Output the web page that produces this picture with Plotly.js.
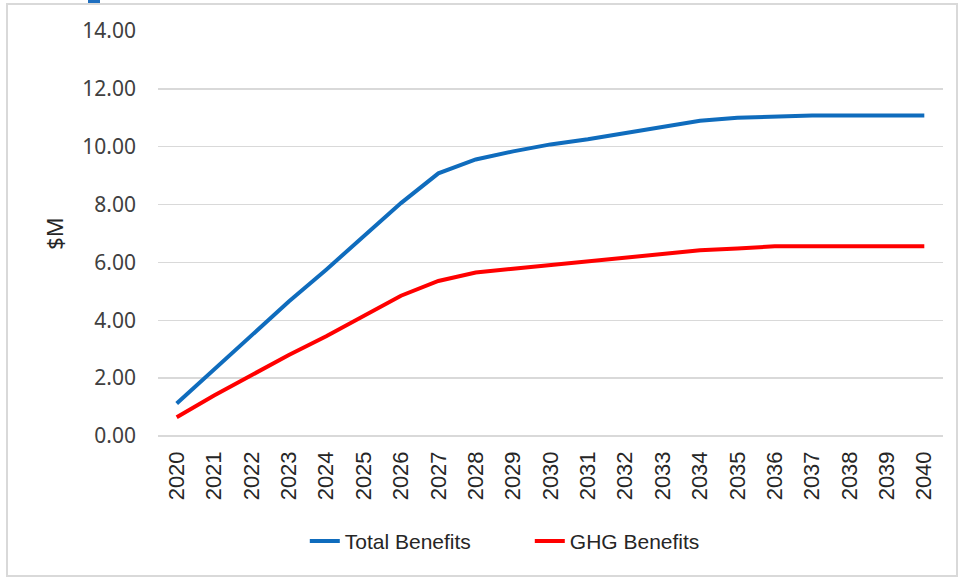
<!DOCTYPE html>
<html>
<head>
<meta charset="utf-8">
<script src="https://cdn.plot.ly/plotly-3.0.1.min.js"></script>
<style>
  html, body { margin: 0; padding: 0; background: #fff; }
  #wrap { position: relative; width: 965px; height: 579px; overflow: hidden; }
  #frame { position: absolute; left: 6px; top: 3px; width: 952px; height: 574px; border: 2px solid #d9d9d9; box-sizing: border-box; }
  #tab { position: absolute; left: 88px; top: 0; width: 12px; height: 3px; background: #1f6fc0; }
  #chart { position: absolute; left: 0; top: 0; width: 965px; height: 579px; }
</style>
</head>
<body>
<div id="wrap">
  <div id="frame"></div>
  <div id="tab"></div>
  <div id="chart"></div>
</div>
<script>
// Annual benefits, $M
const years = ["2020","2021","2022","2023","2024","2025","2026","2027","2028","2029","2030",
               "2031","2032","2033","2034","2035","2036","2037","2038","2039","2040"];
const totalBenefits = [1.12, 2.3, 3.5, 4.65, 5.75, 6.9, 8.05, 9.08, 9.56, 9.84, 10.08,
                       10.26, 10.48, 10.7, 10.9, 11.0, 11.04, 11.08, 11.08, 11.08, 11.08];
const ghgBenefits = [0.65, 1.4, 2.1, 2.8, 3.45, 4.15, 4.85, 5.36, 5.65, 5.78, 5.91,
                     6.04, 6.18, 6.31, 6.42, 6.48, 6.56, 6.56, 6.56, 6.56, 6.56];
const yTicks = [0, 2, 4, 6, 8, 10, 12, 14];

const traces = [
  { x: years, y: totalBenefits, name: "Total Benefits", type: "scatter", mode: "lines",
    line: { color: "#0f6cbd", width: 4 } },
  { x: years, y: ghgBenefits, name: "GHG Benefits", type: "scatter", mode: "lines",
    line: { color: "#ff0000", width: 4 } }
];

const layout = {
  width: 965, height: 579,
  margin: { l: 158, r: 22, t: 31, b: 143 },
  paper_bgcolor: "rgba(0,0,0,0)",
  plot_bgcolor: "rgba(0,0,0,0)",
  font: { family: "Noto Sans, sans-serif", color: "#404040", size: 20 },
  showlegend: true,
  legend: {
    orientation: "h", x: 0.187, xanchor: "left", y: -0.26, yanchor: "middle",
    entrywidth: 180, entrywidthmode: "pixels",
    font: { size: 21, color: "#262626", family: "Liberation Sans, Arial, sans-serif" },
    tracegroupgap: 0
  },
  xaxis: {
    type: "category",
    range: [-0.5, 20.5],
    tickangle: -90,
    tickfont: { size: 22, color: "#262626", family: "Liberation Sans, Arial, sans-serif" },
    showgrid: false, zeroline: false,
    showline: false, ticks: "",
    ticklabelstandoff: 10,
    fixedrange: true
  },
  yaxis: {
    range: [0, 14],
    tickvals: yTicks,
    tickformat: ".2f",
    tickfont: { size: 21, color: "#404040", family: "Noto Sans, sans-serif" },
    showgrid: true, gridcolor: "#d9d9d9", gridwidth: 1.5,
    zeroline: true, zerolinecolor: "#d9d9d9", zerolinewidth: 1.5,
    showline: false, ticks: "",
    ticklabelstandoff: 21,
    title: { text: "$M", standoff: 12, font: { size: 22, color: "#262626", family: "Noto Sans, sans-serif" } },
    fixedrange: true
  }
};

Plotly.newPlot("chart", traces, layout, { displayModeBar: false, staticPlot: true });
</script>
</body>
</html>
